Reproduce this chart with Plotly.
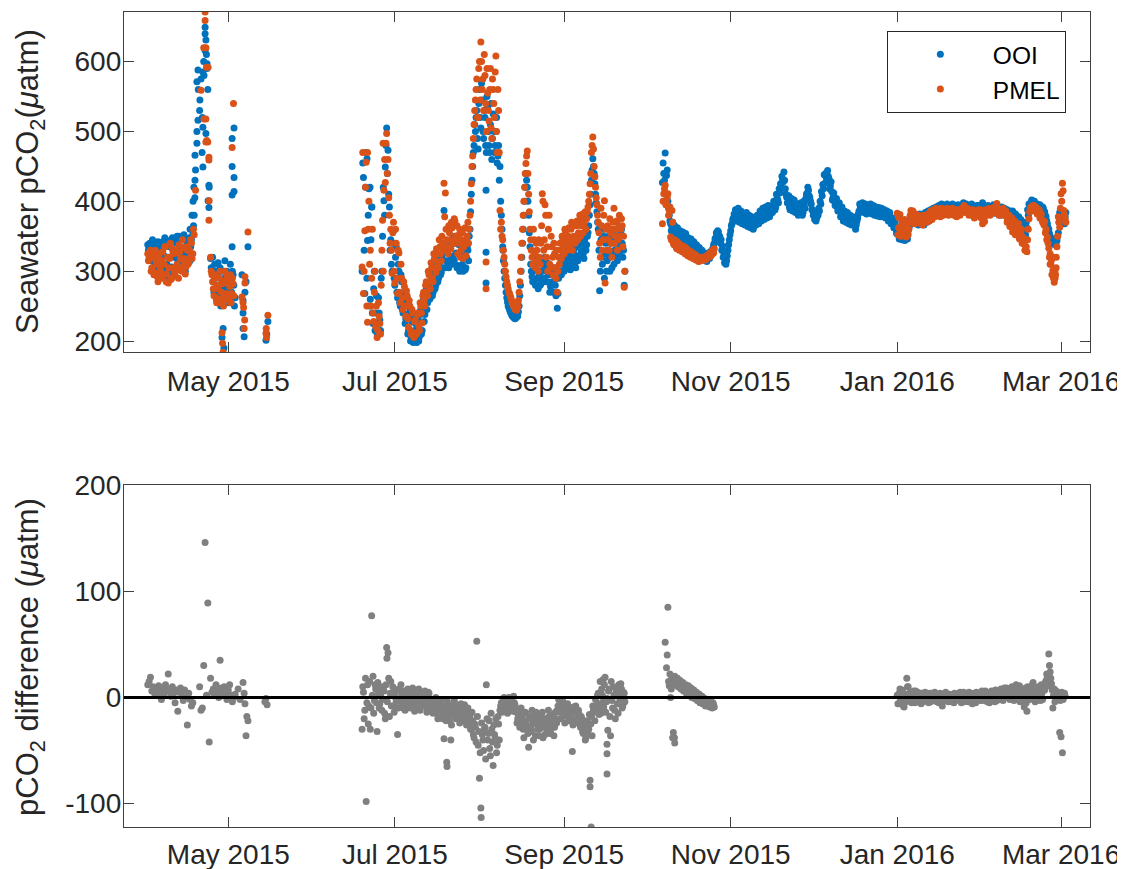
import numpy as np
import pandas as pd
import plotly.graph_objects as go

# ---------------- data ----------------
# time axis: days relative to 2015-05-01; each segment is sampled every 12 h,
# a second interleaved sample set ("_b") sits 6 h later.
ORIGIN = "2015-05-01"
STEP_DAYS = 0.5
B_OFFSET = 0.25

SPRING_START = -29.5
SUMMER_START = 49.0
WINTER_START = 159.0
PMEL_JAN_START = 245.0

ooi_spring = [338, 332, 325, 318, 336, 312, 328, 305, 330, 318,
              300, 342, 322, 345, 310, 290, 335, 298, 348, 320,
              305, 340, 315, 350, 330, 312, 346, 325, 308, 342,
              322, 315, 345, 352, 380, 445, 500, 560, 530, 575,
              520, 600, 640, 610, 560, 420, 318, 300, 285, 310,
              275, 295, 268, 305, 282, 260, 290, 275, 300, 270,
              285, 258, 300, 280, 262]
ooi_spring_b = [330, 340, 315, 345, 322, 338, 300, 342, 312, 335,
                325, 305, 348, 298, 336, 320, 344, 306, 330, 345,
                322, 350, 308, 335, 345, 320, 352, 300, 338, 318,
                348, 335, 325, 365, 405, None, None, None, None, None,
                None, None, None, None, None, None, 305, 320, 270, 300,
                258, 312, 280, 250, 300, 275, 315, 262, 290, 255,
                310, 270, 295, 250, None]
pmel_spring = [325, 318, 330, 305, 322, 298, 315, 292, 320, 306,
               290, 328, 310, 335, 296, 283, 318, 288, 332, 305,
               295, 326, 302, 338, 318, 300, 334, 312, 306, 330,
               312, 320, 340, 325, 352, 416, None, None, None, 559,
               None, 620, 671, 592, 485, 401, 320, 295, 275, 290,
               262, 280, 255, 300, 270, 258, 285, 265, 292, 262,
               278, 255, 290, 265, None]
pmel_spring_b = [315, 328, 300, 320, 295, 330, 310, 285, 325, 300,
                 315, 295, 335, 285, 320, 305, 340, 290, 325, 300,
                 330, 310, 290, 328, 305, 345, 318, 296, 335, 310,
                 330, 345, 318, 360, None, None, None, None, None, None,
                 None, None, None, None, None, None, 300, 285, 265, 295,
                 255, 275, 290, 260, 282, 250, 300, 268, 285, 258,
                 295, 268, 282, None, None]
diff_spring = [12, 15, 19, 6, 10, 4, 8, 2, 11, 5,
               -2, 9, 3, 12, 6, 22, 8, 1, 10, 4,
               -5, 7, -13, 5, 9, 2, -3, 7, 0, -26,
               4, -2, -8, -5, None, None, None, None, 10, -12,
               -10, 30, 146, 2, 89, -42, 18, 5, 8, 2,
               12, 6, 0, 35, 9, 4, 10, 3, -2, 7,
               12, 2, -4, 0, 3]

ooi_summer = [300, 434, 268, 470, 344, 418, 260, 392, 225, 300,
              240, 211, 262, 230, 290, 350, 401, 449, 505, 473,
              392, 345, 300, 358, 280, 335, 262, 300, 250, 285,
              240, 270, 232, 262, 215, 248, 205, 236, 200, 225,
              198, 232, 206, 245, 215, 260, 238, 275, 255, 282,
              262, 290, 270, 300, 280, 310, 290, 318, 298, 325,
              387, 305, 330, 312, 340, 318, 345, 322, 350, 326,
              308, 338, 302, 330, 300, 325, 305, 335, 315, 360,
              410, 450, 480, 500, 530, 475, 560, 505, 545, 490,
              520, 470, 535, 480, 510, 460, 525, 470, 500, 455,
              480, 450, 380, 335, 300, 280, 262, 250, 245, 240,
              236, 234, 232, 234, 236, 250, 280, 320, 360, 400,
              440, 420, 380, 335, 300, 285, 310, 280, 300, 275,
              295, 282, 315, 290, 320, 300, 285, 305, 278, 295,
              270, 300, 265, 247, 290, 310, 295, 315, 300, 320,
              305, 325, 310, 330, 305, 325, 312, 335, 315, 338,
              320, 342, 325, 345, 330, 350, 365, 395, 430, 461,
              440, 410, 385, 360, 272, 345, 310, 360, 325, 300,
              350, 320, 340, 305, 355, 330, 345, 315, 350, 335,
              360, 320, 280]
ooi_summer_b = [455, 330, 420, 290, 380, 250, 345, 240, 275, 215,
                265, 225, 240, 215, 300, 420, 380, 480, 440, 410,
                330, 310, 340, 290, 320, 270, 310, 255, 295, 245,
                262, 225, 255, 210, 240, 200, 228, 198, 215, 205,
                222, 200, 238, 210, 250, 228, 268, 245, 275, 260,
                285, 265, 295, 275, 305, 285, 312, 295, 320, 305,
                335, 315, 342, 305, 335, 310, 348, 315, 340, 305,
                325, 300, 340, 310, 335, 302, 320, 330, 350, 385,
                430, 470, 510, 520, 490, 540, 520, 569, 500, 530,
                480, 550, 500, 470, 540, 490, 500, 480, 520, 465,
                430, 400, 360, 315, 290, 270, 256, 248, 242, 238,
                235, 233, 233, 235, 242, 265, 300, 340, 380, 420,
                430, 400, 355, 310, 292, 320, 288, 305, 290, 315,
                280, 300, 290, 308, 285, 312, 295, 270, 300, 285,
                305, 280, 290, 268, 300, 318, 300, 325, 308, 330,
                312, 320, 302, 338, 318, 332, 305, 340, 322, 345,
                328, 335, 318, 350, 338, 355, 380, 410, 445, 450,
                425, 398, 370, 330, 300, 320, 350, 290, 340, 315,
                330, 300, 345, 325, 310, 340, 320, 345, 325, 355,
                340, 330, 300]
pmel_summer = [306, 268, 358, 456, 227, 400, 330, 290, 240, 270,
               220, 205, 255, 225, 280, 373, 416, 427, 497, 460,
               380, 360, 297, 370, 283, 340, 268, 326, 255, 290,
               245, 278, 236, 265, 220, 250, 210, 240, 205, 230,
               210, 238, 215, 250, 226, 270, 250, 285, 265, 295,
               275, 305, 285, 318, 298, 325, 305, 335, 315, 340,
               426, 412, 345, 325, 355, 332, 362, 340, 372, 345,
               325, 352, 320, 345, 318, 340, 322, 350, 340, 380,
               425, 465, 510, 545, 575, 520, 600, 628, 560, 530,
               580, 500, 555, 515, 590, 490, 560, 520, 608, 470,
               530, 387, 370, 345, 320, 300, 285, 275, 268, 262,
               255, 250, 246, 244, 250, 270, 300, 340, 380, 420,
               454, 472, 410, 360, 330, 310, 345, 305, 330, 300,
               320, 340, 411, 330, 395, 320, 300, 380, 305, 335,
               295, 325, 290, 270, 320, 340, 318, 345, 325, 355,
               330, 350, 335, 360, 330, 350, 340, 365, 345, 370,
               350, 375, 355, 378, 360, 385, 400, 425, 470, 492,
               450, 420, 395, 370, 340, 390, 330, 380, 283, 345,
               365, 330, 355, 320, 370, 340, 360, 330, 365, 350,
               375, 335, 277]
pmel_summer_b = [470, 300, 420, 250, 360, 310, 250, 360, 228, 300,
                 250, 215, 235, 210, 330, 300, 460, 483, 440, 405,
                 340, 330, 355, 300, 360, 290, 330, 270, 310, 262,
                 285, 250, 272, 232, 258, 215, 245, 208, 228, 212,
                 240, 222, 255, 240, 265, 258, 280, 270, 300, 285,
                 312, 290, 325, 305, 332, 312, 345, 325, 350, 330,
                 378, 360, 335, 365, 345, 370, 340, 375, 350, 365,
                 340, 360, 330, 355, 335, 362, 345, 370, 360, 400,
                 450, 490, 530, 560, 520, 590, 545, 600, 575, 610,
                 540, 590, 530, 560, 505, 575, 540, 585, 500, 560,
                 470, 360, 350, 330, 310, 292, 280, 270, 265, 258,
                 252, 248, 245, 246, 258, 285, 320, 360, 400, 440,
                 465, 440, 385, 345, 320, 360, 325, 340, 315, 345,
                 310, 365, 400, 345, 380, 335, 360, 310, 350, 320,
                 340, 305, 330, 300, 310, 330, 350, 335, 360, 340,
                 345, 362, 340, 370, 345, 365, 350, 372, 355, 380,
                 365, 382, 368, 385, 375, 392, 410, 440, 480, 475,
                 435, 405, 380, 355, 320, 365, 345, 401, 360, 330,
                 345, 375, 340, 360, 390, 350, 372, 345, 380, 360,
                 365, 350, 300]
diff_summer = [-30, 5, -12, -98, 12, -8, -30, 77, 20, -3,
               8, -32, 4, -6, 10, -2, 6, -20, 47, 42,
               -18, 15, 2, -8, 5, -4, -35, 8, -2, 3,
               -10, 6, -5, 1, -8, 4, -3, 9, -6, 0,
               -10, 2, -4, 5, -7, -1, 6, -9, -3, 4,
               -12, -5, -15, -6, 0, -10, -18, -4, -12, -20,
               -39, -8, -61, -14, -22, -40, -10, -16, -6, -13,
               -20, -9, -15, -11, -18, -7, -14, -20, -25, -17,
               -30, -22, -38, -28, 53, -45, -76, -104, -35, -50,
               -28, 12, -40, -22, -55, -30, -64, -35, -20, -45,
               -25, -12, -5, -10, 0, -8, -3, -12, -6, -2,
               -10, 1, -7, -14, -20, -12, -25, -18, -30, -22,
               -15, -28, -47, -20, -32, -24, -17, -36, -25, -19,
               -30, -22, -14, -28, -35, -20, -26, -18, -32, -24,
               -16, -28, -20, -12, -2, -6, -10, -4, -14, -8,
               -18, -11, -22, -14, -51, -9, -20, -13, -24, -16,
               -28, -20, -34, -26, -38, -22, -30, -78, -18, -8,
               -14, -2, -10, 4, -6, -15, 2, -9, 19, -4,
               -31, 8, -36, -3, 10, -12, 5, -6, 12, -2,
               8, -8, 4]
diff_summer_b = [10, -20, 18, -5, -25, 15, -10, 2, -15, 12,
                 -5, 14, -10, 2, -12, 8, -15, 12, -4, 18,
                 4, -8, 10, -14, 0, 7, -10, -2, 12, -6,
                 4, -12, 0, 8, -4, -10, 5, -2, -13, 6,
                 -3, 8, -12, -1, 3, -8, 0, -14, 5, -6,
                 -2, -10, -4, -14, -8, -20, -6, -12, -2, -16,
                 -10, -22, -4, -18, -8, -26, -12, -3, -20, -9,
                 -14, -24, -6, -22, -12, -19, -26, -10, -16, -30,
                 -14, -35, -25, -42, -18, -32, -52, -24, -40, -30,
                 -58, -20, -34, -48, -15, -42, -26, -38, -52, -18,
                 -40, -8, -14, -2, -12, -6, -15, 0, -9, -4,
                 -13, -5, -12, -24, -16, -28, -10, -22, -38, -14,
                 -26, -34, -18, -28, -12, -40, -22, -14, -30, -36,
                 -16, -26, -38, -20, -24, -30, -12, -34, -20, -28,
                 -36, -14, -24, -8, -14, -20, -2, -16, -24, -12,
                 -6, -22, -16, -10, -26, -14, -8, -20, -12, -25,
                 -18, -32, -24, -40, -28, -35, -16, -25, -36, -12,
                 -22, -8, 2, -16, -10, 8, -4, 12, -14, -1,
                 6, -18, 15, -10, 2, -20, 8, -15, 4, 13,
                 -10, 5, -4]

ooi_winter = [427, 440, 469, 437, 400, 380, 368, 362, 356, 365,
              352, 362, 350, 358, 348, 356, 346, 354, 344, 348,
              338, 346, 335, 342, 332, 338, 328, 334, 325, 330,
              322, 326, 320, 325, 322, 328, 325, 333, 340, 348,
              352, 356, 350, 345, 336, 326, 318, 315, 330, 345,
              358, 368, 376, 380, 384, 378, 382, 376, 380, 374,
              378, 372, 376, 370, 375, 366, 372, 364, 370, 374,
              378, 372, 380, 376, 384, 378, 388, 380, 386, 382,
              390, 386, 396, 392, 404, 398, 412, 420, 431, 442,
              418, 406, 398, 392, 400, 394, 386, 398, 390, 384,
              395, 388, 392, 384, 396, 404, 412, 416, 405, 396,
              388, 382, 378, 376, 380, 386, 396, 408, 418, 426,
              434, 444, 432, 422, 414, 406, 400, 396, 392, 396,
              388, 384, 380, 384, 378, 376, 380, 374, 372, 376,
              370, 368, 366, 376, 386, 392, 394, 390, 392, 388,
              391, 389, 392, 388, 390, 386, 389, 385, 388, 384,
              387, 385, 383, 386, 382, 378, 380, 376, 372, 368,
              365, 360, 355, 352, 356, 350, 354, 349, 355, 352,
              358, 365, 375, 382, 378, 374, 378, 372, 376, 370,
              375, 372, 378, 374, 380, 376, 382, 378, 384, 388,
              384, 390, 386, 392, 388, 386, 390, 388, 392, 390,
              388, 392, 389, 387, 390, 388, 391, 388, 386, 390,
              392, 396, 392, 390, 388, 392, 390, 386, 388, 385,
              390, 386, 388, 392, 394, 390, 388, 386, 390, 387,
              385, 389, 391, 388, 386, 390, 384, 388, 386, 390,
              384, 388, 383, 386, 380, 384, 378, 384, 372, 380,
              366, 378, 360, 372, 355, 368, 352, 362, 380, 392,
              398, 401, 398, 395, 392, 394, 390, 392, 388, 390,
              385, 378, 368, 360, 350, 345, 340, 344, 340, 344,
              355, 384, 378, 370, 375, 378]
ooi_winter_b = [455, 430, 410, 445, 390, 372, 358, 370, 350, 360,
                345, 358, 342, 352, 340, 350, 338, 348, 336, 342,
                330, 340, 328, 336, 325, 332, 320, 328, 318, 324,
                316, 322, 314, 320, 318, 324, 330, 338, 346, 355,
                358, 348, 340, 330, 320, 312, 310, 322, 338, 352,
                365, 374, 382, 388, 372, 390, 370, 386, 368, 382,
                366, 384, 364, 380, 362, 378, 360, 376, 366, 380,
                368, 386, 372, 390, 374, 392, 376, 394, 378, 392,
                384, 400, 388, 410, 402, 418, 425, 436, 428, 430,
                410, 398, 408, 388, 404, 386, 402, 384, 396, 380,
                388, 398, 380, 400, 390, 410, 420, 408, 400, 388,
                380, 374, 372, 382, 390, 400, 414, 424, 438, 440,
                428, 436, 418, 428, 402, 412, 394, 404, 386, 398,
                378, 392, 372, 386, 370, 384, 368, 380, 366, 378,
                372, 360, 372, 382, 396, 386, 398, 384, 396, 382,
                395, 384, 396, 382, 394, 380, 392, 379, 391, 378,
                390, 378, 388, 376, 386, 372, 384, 368, 376, 362,
                370, 354, 362, 346, 350, 345, 348, 344, 358, 346,
                362, 370, 384, 372, 382, 368, 380, 366, 382, 368,
                380, 366, 384, 370, 386, 372, 388, 376, 390, 382,
                392, 382, 394, 384, 396, 382, 394, 386, 396, 384,
                394, 384, 396, 382, 394, 384, 395, 382, 392, 384,
                398, 388, 396, 384, 394, 386, 396, 382, 392, 380,
                394, 382, 394, 386, 398, 384, 392, 382, 394, 382,
                390, 384, 395, 383, 392, 384, 390, 380, 392, 382,
                390, 380, 388, 378, 386, 374, 386, 370, 382, 365,
                376, 358, 374, 350, 366, 348, 370, 388, 396, 388,
                402, 394, 400, 388, 396, 386, 395, 384, 392, 380,
                380, 372, 362, 354, 346, 340, 346, 338, 342, 350,
                370, 388, 372, 380, 368, 384]
pmel_winter_oct = [368, 411, 423, 397, 411, 387, 349, 387, 340, 345,
                   335, 342, 333, 338, 330, 336, 328, 334, 325, 330,
                   322, 328, 320, 325, 318, 322, 316, 320, 315, 318,
                   316, 320, 318, 322, 320, 325, 323, 328, 332]
pmel_winter_oct_b = [400, 418, 395, 405, 380, 392, 345, 370, 338, 342,
                     332, 340, 330, 336, 328, 334, 325, 332, 322, 328,
                     320, 326, 318, 324, 316, 320, 314, 318, 316, 320,
                     318, 316, 322, 320, 326, 322, 330, 326, None]
pmel_winter_jan = [383, 362, 381, 359, 372, 355, 366, 350, 352, 370,
                   387, 380, 372, 378, 370, 376, 369, 374, 371, 376,
                   372, 378, 374, 380, 376, 382, 378, 384, 380, 386,
                   382, 388, 384, 380, 386, 384, 388, 385, 382, 388,
                   386, 383, 387, 384, 388, 384, 380, 386, 390, 394,
                   388, 385, 383, 388, 386, 380, 384, 378, 386, 382,
                   385, 388, 378, 372, 371, 380, 386, 383, 380, 386,
                   389, 385, 392, 397, 384, 386, 382, 388, 380, 384,
                   378, 373, 380, 368, 376, 359, 372, 362, 355, 368,
                   350, 360, 349, 339, 333, 328, 360, 385, 392, 388,
                   394, 386, 390, 384, 388, 380, 374, 369, 371, 360,
                   349, 333, 325, 316, 301, 284, 295, 335, 378, 363,
                   411, 426, 387, 375]
pmel_winter_jan_b = [352, 376, 350, 368, 358, 374, 349, 362, 360, 380,
                     372, 386, 368, 382, 374, 380, 372, 378, 366, 380,
                     376, 370, 382, 372, 386, 374, 388, 378, 390, 382,
                     386, 378, 390, 380, 388, 382, 390, 380, 386, 384,
                     390, 380, 386, 378, 384, 388, 384, 390, 386, 390,
                     384, 390, 380, 386, 382, 388, 376, 384, 380, 388,
                     380, 376, 368, 378, 388, 380, 384, 390, 382, 388,
                     384, 392, 388, 390, 380, 388, 384, 390, 382, 386,
                     370, 378, 364, 374, 356, 368, 352, 366, 358, 346,
                     356, 340, 345, 330, 335, 345, 375, 390, 386, 394,
                     388, 392, 382, 386, 376, 382, 370, 366, 355, 345,
                     340, 320, 310, 295, 290, 300, 320, 350, 370, 390,
                     400, 415, 380, 370]
diff_winter_oct = [None, None, 52, 28, 85, 11, 0, 19, -33, 20,
                   14, 18, 12, 16, 10, 14, 8, 12, 7, 11,
                   5, 9, 3, 7, 1, 5, -2, 3, -4, 1,
                   -6, -1, -5, -3, -7, -2, -8, -5, -9]
diff_winter_oct_b = [None, None, None, 40, 15, 22, 8, -38, 16, 12,
                     18, 10, 15, 8, 12, 6, 10, 4, 9, 2,
                     7, 0, 5, -1, 3, -3, 2, -5, 0, -6,
                     -2, -8, -4, -6, -9, -4, -10, -7, None]
diff_winter_jan = [2, -6, 8, -4, 5, -9, 3, 18, 10, -3,
                   4, -2, 6, -5, 2, 5, -3, 1, 4, -4,
                   2, -1, 3, -5, 1, 4, -2, 0, 3, -4,
                   1, -2, 2, -8, 0, 3, -3, 1, -1, 2,
                   -4, 0, 4, -3, 2, -1, 5, -5, 1, 3,
                   -2, 2, -4, 0, 4, -6, 2, -2, 5, 0,
                   3, -3, 6, 2, -1, 4, -4, 3, 0, 6,
                   -2, 2, 7, -3, 4, 1, 8, -1, 5, 3,
                   9, 0, 6, 2, 10, -2, 5, 12, 3, 8,
                   -4, 6, 0, -9, 9, -13, 5, -2, 8, 12,
                   3, -4, 6, 1, 9, -3, 4, 11, 7, 16,
                   20, 41, 24, 13, -10, 8, 2, 5, -2, -33,
                   -37, -52, 3, 1]
diff_winter_jan_b = [-6, 4, -2, 7, -8, 2, -4, 10, 2, 5,
                     -5, 3, -2, 6, -4, 1, 4, -6, 3, -2,
                     5, -3, 1, 4, -4, 2, -1, 5, -3, 2,
                     -5, 4, -1, 2, -3, 5, 0, -4, 3, -2,
                     2, -5, 1, 3, -2, 4, -3, 0, 5, -4,
                     3, -1, 5, -3, 1, -2, 4, -5, 2, 3,
                     -2, 5, -3, 1, 6, -2, 3, -5, 4, -1,
                     5, -4, 2, 6, -2, 7, 3, -3, 9, 0,
                     4, 7, -2, 8, 4, -3, 10, 6, 1, 11,
                     7, -2, 4, 8, -5, 10, 2, 7, -1, 14,
                     8, 2, -3, 10, 5, 12, -2, 9, 14, 22,
                     11, 30, 18, 7, 2, -4, 6, 0, 4, -3,
                     5, -2, 4, None]

# irregular extra observations (day offset from 2015-05-01, value)
ooi_extra_days = [-14.0, -13.3, -12.9, -12.6, -12.2, -12.2, -11.5, -11.5, -11.1, -11.1,
                  -10.4, -9.6, -9.3, -9.3, -9.3, -8.5, -8.2, -8.5, -7.8, -7.8,
                  -8.2, -7.1, -7.1, -7.4, -8.9,
                  1.4, 1.4, 1.4, 2.1, 2.1, 2.1, 1.4, 7.2, 5.4, 5.4,
                  5.4, 5.8, 6.1, 6.5, 5.0, -1.9, -2.3, -1.6, 14.5, 13.8, 14.1,
                  50.8, 51.9, 52.6, 94.4, 94.4, 94.4, 100.6]
ooi_extra_vals = [360, 380, 400, 420, 466, 430, 483, 571, 588, 516,
                  545, 470, 506, 449, 585, 649, 631, 616, 597, 590,
                  497, 423, 391, 401, 580,
                  490, 450, 409, 505, 434, 414, 335, 335, 258, 240,
                  218, 206, 270, 285, 295, 218, 205, 190, 228, 201, 210,
                  461, 420, 392, 416, 327, 283, 330]
pmel_extra_days = [-8.5, -8.2, -8.9, -8.2, -7.9, -7.1, -7.1, -7.1, -7.4, -8.2,
                   1.9, 1.4, 7.2, 6.1, 6.1, 5.0, 5.6, 5.8, 6.0, 5.4,
                   -2.1, -1.9, -2.3, 14.5, 13.8, 14.0, 13.9,
                   51.0, 56.7, 94.4, 94.4,
                   301.0, 301.7, 302.5, 302.8, 302.1, 303.2, 291.8, 290.0]
pmel_extra_vals = [659, 518, 518, 485, 487, 463, 459, 373, 592, 620,
                   540, 477, 356, 292, 283, 263, 248, 218, 230, 255,
                   197, 184, 212, 237, 211, 205, 218,
                   470, 483, 313, 275,
                   310, 295, 300, 290, 320, 305, 345, 355]
diff_extra_days = [5.4, 6.8, 7.2, 6.5, 1.7, 4.3, 5.8, 3.6, 13.8, 14.2, 13.4, 6.1,
                   132.5, 132.9, 138.7, 138.7, 138.7, 92.6, 80.1, 58.1, 136.2, 137.3,
                   163.4, 163.5]
diff_extra_vals = [14, -18, -22, -36, 1, -2, 4, 8, -1, -7, -4, -6,
                   -84, -122, -53, -72, -44, -113, -65, 37, 15, 17,
                   -38, -43]

x_tick_dates = ["2015-05-01", "2015-07-01", "2015-09-01", "2015-11-01", "2016-01-01", "2016-03-01"]
x_tick_labels = ["May 2015", "Jul 2015", "Sep 2015", "Nov 2015", "Jan 2016", "Mar 2016"]
top_y_ticks = [200, 300, 400, 500, 600]
bot_y_ticks = [-100, 0, 100, 200]
bot_y_labels = ["-100", "0", "100", "200"]
series_names = ["OOI", "PMEL"]

# ---------------- helpers ----------------
origin = pd.Timestamp(ORIGIN)


def seg_times(start, n):
    return origin + pd.to_timedelta(start + STEP_DAYS * np.arange(n), unit="D")


def day_times(days):
    return origin + pd.to_timedelta(np.array(days, dtype=float), unit="D")


def build(segments, extra_days, extra_vals):
    xs, ys = [], []
    for start, vals in segments:
        t = seg_times(start, len(vals))
        for ti, v in zip(t, vals):
            if v is not None:
                xs.append(ti)
                ys.append(v)
    for ti, v in zip(day_times(extra_days), extra_vals):
        xs.append(ti)
        ys.append(v)
    return xs, ys


ooi_x, ooi_y = build([(SPRING_START, ooi_spring), (SPRING_START + B_OFFSET, ooi_spring_b),
                      (SUMMER_START, ooi_summer), (SUMMER_START + B_OFFSET, ooi_summer_b),
                      (WINTER_START, ooi_winter), (WINTER_START + B_OFFSET, ooi_winter_b)],
                     ooi_extra_days, ooi_extra_vals)
pmel_x, pmel_y = build([(SPRING_START, pmel_spring), (SPRING_START + B_OFFSET, pmel_spring_b),
                        (SUMMER_START, pmel_summer), (SUMMER_START + B_OFFSET, pmel_summer_b),
                        (WINTER_START, pmel_winter_oct), (WINTER_START + B_OFFSET, pmel_winter_oct_b),
                        (PMEL_JAN_START, pmel_winter_jan), (PMEL_JAN_START + B_OFFSET, pmel_winter_jan_b)],
                       pmel_extra_days, pmel_extra_vals)
diff_x, diff_y = build([(SPRING_START, diff_spring),
                        (SUMMER_START, diff_summer), (SUMMER_START + B_OFFSET, diff_summer_b),
                        (WINTER_START, diff_winter_oct), (WINTER_START + B_OFFSET, diff_winter_oct_b),
                        (PMEL_JAN_START, diff_winter_jan), (PMEL_JAN_START + B_OFFSET, diff_winter_jan_b)],
                       diff_extra_days, diff_extra_vals)

# ---------------- figure ----------------
BLUE = "#0072BD"
ORANGE = "#D95319"
GRAY = "#808080"
AX = "#262626"
LINE = "#404040"
FONT = "Liberation Sans, Arial, Helvetica, sans-serif"
TICK_FS = 28
LABEL_FS = 31
MS = 7

fig = go.Figure()
fig.add_trace(go.Scatter(x=ooi_x, y=ooi_y, mode="markers", name=series_names[0],
                         marker=dict(color=BLUE, size=MS, line=dict(width=0)),
                         xaxis="x", yaxis="y"))
fig.add_trace(go.Scatter(x=pmel_x, y=pmel_y, mode="markers", name=series_names[1],
                         marker=dict(color=ORANGE, size=MS, line=dict(width=0)),
                         xaxis="x", yaxis="y"))
fig.add_trace(go.Scatter(x=diff_x, y=diff_y, mode="markers", name="difference",
                         showlegend=False,
                         marker=dict(color=GRAY, size=MS, line=dict(width=0)),
                         xaxis="x2", yaxis="y2"))

x_range = [origin + pd.Timedelta(days=-38.2), origin + pd.Timedelta(days=315.6)]

common_x = dict(range=x_range, tickvals=pd.to_datetime(x_tick_dates), ticktext=x_tick_labels,
                ticks="inside", ticklen=10, tickwidth=1.3, tickcolor=LINE,
                showline=True, linecolor=LINE, linewidth=1.3, mirror="allticks",
                showgrid=False, zeroline=False, automargin=False,
                tickfont=dict(family=FONT, size=TICK_FS, color=AX))
common_y = dict(ticks="inside", ticklen=10, tickwidth=1.3, tickcolor=LINE,
                showline=True, linecolor=LINE, linewidth=1.3, mirror="allticks",
                showgrid=False, zeroline=False, automargin=False, ticklabelstandoff=-4,
                tickfont=dict(family=FONT, size=TICK_FS, color=AX))

# the page body adds an 8 px offset, so the figure is 8 px smaller on each axis
fig.update_layout(
    width=1117, height=861,
    margin=dict(l=116, r=35, t=4, b=42, autoexpand=False),
    paper_bgcolor="white", plot_bgcolor="white",
    xaxis=dict(domain=[0, 1], anchor="y", ticklabelstandoff=4, **common_x),
    yaxis=dict(domain=[0.5828, 1], anchor="x", range=[184.3, 671], tickvals=top_y_ticks, **common_y),
    xaxis2=dict(domain=[0, 1], anchor="y2", ticklabelstandoff=2, **common_x),
    yaxis2=dict(domain=[0, 0.4196], anchor="x2", range=[-122, 200], tickvals=bot_y_ticks,
                ticktext=bot_y_labels, **common_y),
    legend=dict(x=0.975, xanchor="right", y=0.977, yanchor="top",
                bgcolor="white", bordercolor=AX, borderwidth=1,
                font=dict(family=FONT, size=24.5, color="black"),
                itemwidth=95),
    showlegend=True,
)

fig.add_shape(type="line", xref="x2 domain", yref="y2", x0=0, x1=1, y0=0, y1=0,
              line=dict(color="black", width=3), layer="above")

fig.add_annotation(text="Seawater pCO<sub>2</sub>(<i>μ</i>atm)", xref="paper", yref="paper",
                   x=(30 - 124) / 966, y=1 - (182 - 12) / 815, textangle=-90,
                   xanchor="center", yanchor="middle", showarrow=False,
                   font=dict(family=FONT, size=LABEL_FS, color=AX))
fig.add_annotation(text="pCO<sub>2</sub> difference (<i>μ</i>atm)", xref="paper", yref="paper",
                   x=(30 - 124) / 966, y=1 - (657 - 12) / 815, textangle=-90,
                   xanchor="center", yanchor="middle", showarrow=False,
                   font=dict(family=FONT, size=LABEL_FS, color=AX))

fig.write_html("out.html")
